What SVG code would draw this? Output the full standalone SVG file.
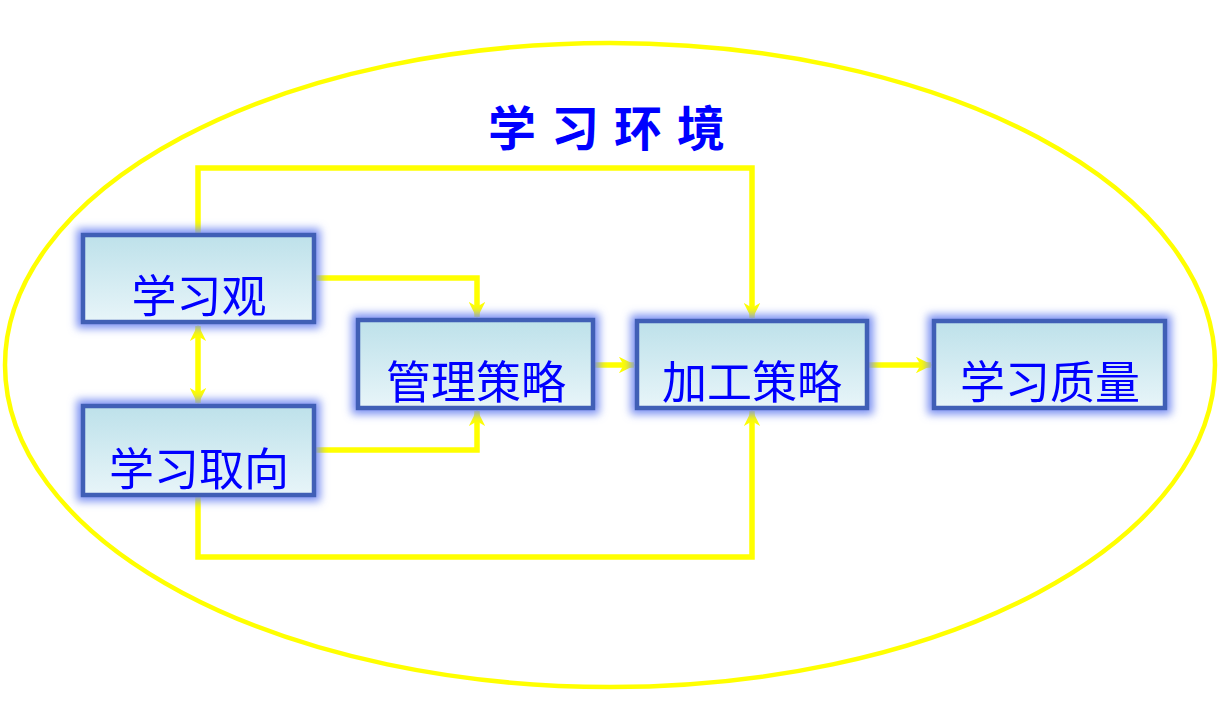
<svg xmlns="http://www.w3.org/2000/svg" width="1221" height="704" viewBox="0 0 1221 704">
<style>
.box{fill:url(#bg);stroke:#3F5EB6;stroke-width:4.5}
.lbl{font-family:"Noto Sans CJK SC","Noto Sans CJK JP",sans-serif;font-size:45px;fill:#0000FF;text-anchor:middle}
.title{font-family:"Noto Sans CJK SC",sans-serif;font-size:48px;font-weight:bold;fill:#0000FF;text-anchor:middle;letter-spacing:15px}
.con{fill:none;stroke:#FFFF00;stroke-width:5.5}
</style>
<defs>
<linearGradient id="bg" x1="0" y1="0" x2="0" y2="1">
<stop offset="0" stop-color="#BDE1EA"/>
<stop offset="1" stop-color="#E8F5F9"/>
</linearGradient>
<filter id="glow" x="-20%" y="-30%" width="140%" height="160%">
<feMorphology in="SourceAlpha" operator="dilate" radius="4" result="d"/>
<feGaussianBlur in="d" stdDeviation="4.5" result="b"/>
<feFlood flood-color="#7A90F2" flood-opacity="1"/>
<feComposite in2="b" operator="in" result="g"/>
<feMerge><feMergeNode in="g"/><feMergeNode in="SourceGraphic"/></feMerge>
</filter>
<marker id="ah" viewBox="0 0 12 12" refX="11" refY="6" markerWidth="3" markerHeight="3" orient="auto-start-reverse" markerUnits="strokeWidth">
<path d="M0,0 L12,6 L0,12 L3.5,6 z" fill="#FFFF00"/>
</marker>
</defs>
<rect width="1221" height="704" fill="#FFFFFF"/>
<ellipse cx="610" cy="365" rx="605" ry="322" fill="none" stroke="#FFFF00" stroke-width="4.5"/>
<text class="title" x="614" y="146">学习环境</text>
<g id="connectors">
<path class="con" d="M198,234 V168 H752 V318" marker-end="url(#ah)"/>
<path class="con" d="M315,278 H477 V317" marker-end="url(#ah)"/>
<path class="con" d="M315,450 H477 V411" marker-end="url(#ah)"/>
<path class="con" d="M198,496 V557 H752 V411" marker-end="url(#ah)"/>
<path class="con" d="M198,326 V403" marker-start="url(#ah)" marker-end="url(#ah)"/>
<path class="con" d="M594,365 H634" marker-end="url(#ah)"/>
<path class="con" d="M868,365 H931" marker-end="url(#ah)"/>
</g>
<g id="n1" filter="url(#glow)"><rect class="box" x="83" y="235" width="231" height="87"/><text class="lbl" x="199" y="313">学习观</text></g>
<g id="n2" filter="url(#glow)"><rect class="box" x="83" y="406" width="231" height="89"/><text class="lbl" x="199" y="486">学习取向</text></g>
<g id="n3" filter="url(#glow)"><rect class="box" x="358" y="320" width="235" height="88"/><text class="lbl" x="476" y="399">管理策略</text></g>
<g id="n4" filter="url(#glow)"><rect class="box" x="637" y="321" width="230" height="87"/><text class="lbl" x="752" y="399">加工策略</text></g>
<g id="n5" filter="url(#glow)"><rect class="box" x="934" y="321" width="231" height="87"/><text class="lbl" x="1050" y="399">学习质量</text></g>
</svg>
